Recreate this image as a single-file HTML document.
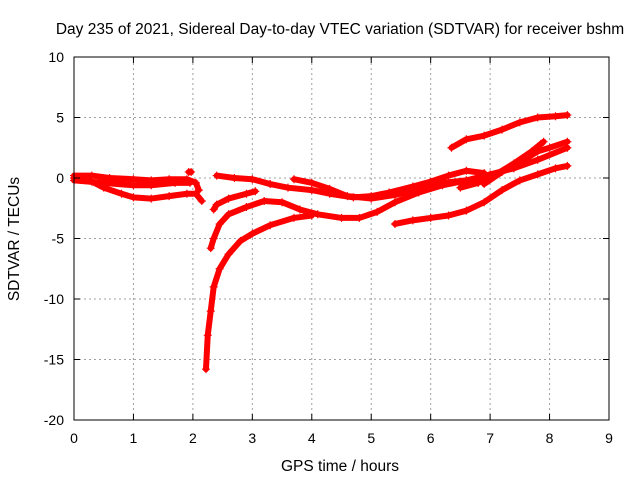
<!DOCTYPE html>
<html><head><meta charset="utf-8"><style>
body{margin:0;background:#fff}
svg{display:block;font-family:"Liberation Sans",sans-serif}
</style></head><body>
<svg id="chart" width="640" height="480">
<rect width="640" height="480" fill="#fff"/>
<text x="340" y="34" font-size="15.5" text-anchor="middle">Day 235 of 2021, Sidereal Day-to-day VTEC variation (SDTVAR) for receiver bshm</text>
<g id="grid"></g><g id="series"></g><g id="axes"></g>
<text x="340" y="471" font-size="15.5" text-anchor="middle">GPS time / hours</text>
<text transform="translate(19,239) rotate(-90)" font-size="15.5" text-anchor="middle">SDTVAR / TECUs</text>
</svg>
<script>
const xTicks=[0,1,2,3,4,5,6,7,8,9];
const yTicks=[10,5,0,-5,-10,-15,-20];
const s1=[[0,0.2],[0.3,0.2],[0.6,0],[1,-0.1],[1.3,-0.2],[1.6,-0.1],[1.9,-0.1],[2.05,-0.4],[2.1,-1]];
const s1b=[[0,-0.2],[0.5,-0.4],[1,-0.6],[1.3,-0.6],[1.7,-0.4],[1.95,-0.4]];
const s2=[[0,0],[0.3,-0.3],[0.5,-0.8],[0.8,-1.3],[1,-1.6],[1.3,-1.7],[1.6,-1.5],[1.9,-1.3],[2.05,-1.3],[2.15,-1.9]];
const s3=[[2.4,0.2],[2.7,0],[3,-0.1],[3.3,-0.5],[3.6,-0.8],[4,-1],[4.3,-1.3],[4.7,-1.6],[5,-1.5],[5.3,-1.2],[5.7,-0.7],[6,-0.3],[6.3,0.2],[6.6,0.6],[6.9,0.4]];
const s4=[[3.7,-0.1],[4,-0.4],[4.3,-0.9],[4.6,-1.5],[5,-1.7],[5.4,-1.4],[5.8,-0.9],[6.2,-0.4],[6.6,-0.2],[6.9,-0.2]];
const s5=[[2.35,-2.6],[2.4,-2.2],[2.6,-1.7],[2.9,-1.3],[3.05,-1.1]];
const s6=[[2.3,-5.8],[2.35,-5],[2.45,-3.8],[2.6,-3],[2.9,-2.4],[3.2,-1.9],[3.5,-2],[3.8,-2.6],[4.1,-3],[4.5,-3.3],[4.8,-3.3],[5.1,-2.8],[5.4,-2],[5.8,-1.2],[6.2,-0.6],[6.6,-0.2],[7,0.3],[7.4,0.8],[7.8,1.5],[8.3,2.5]];
const s7=[[2.22,-15.8],[2.25,-13],[2.3,-11],[2.35,-9],[2.45,-7.5],[2.6,-6.3],[2.8,-5.2],[3,-4.6],[3.3,-3.9],[3.7,-3.3],[4,-3.1]];
const s8=[[5.4,-3.8],[5.7,-3.5],[6,-3.3],[6.3,-3.1],[6.6,-2.7],[6.9,-2],[7.2,-1],[7.5,-0.2],[7.8,0.3],[8.1,0.8],[8.3,1]];
const s9=[[6.35,2.5],[6.6,3.2],[6.9,3.5],[7.2,4],[7.5,4.6],[7.8,5],[8.1,5.1],[8.3,5.2]];
const s10=[[6.5,-0.8],[6.8,-0.4],[7.1,0.3],[7.4,1.2],[7.7,2.2],[7.85,2.8],[7.9,3]];
const s11=[[6.9,-0.5],[7.2,0.5],[7.5,1.3],[7.8,2.2],[8,2.5],[8.3,3]];
const s12=[[1.93,0.5],[1.97,0.5]];
const allSeries=[s1,s1b,s2,s3,s4,s5,s6,s7,s8,s9,s10,s11,s12];
const X0=74,X1=609,Y0=420,Y1=57,xmin=0,xmax=9,ymin=-20,ymax=10;
const sx=v=>X0+(v-xmin)/(xmax-xmin)*(X1-X0);
const sy=v=>Y0-(v-ymin)/(ymax-ymin)*(Y0-Y1);
const NS="http://www.w3.org/2000/svg";
function mk(t,a,p){const e=document.createElementNS(NS,t);for(const k in a)e.setAttribute(k,a[k]);p.appendChild(e);return e;}
const grid=document.getElementById('grid'),axes=document.getElementById('axes'),ser=document.getElementById('series');
xTicks.forEach(t=>{const x=sx(t);
 if(t>xmin&&t<xmax){const g=mk('line',{x1:x,x2:x,y1:Y0,y2:Y1,stroke:'#a0a0a0','stroke-dasharray':'2,3'},grid);
 
 }
 mk('line',{x1:x,x2:x,y1:Y0,y2:Y0-6,stroke:'#000'},axes);mk('line',{x1:x,x2:x,y1:Y1,y2:Y1+6,stroke:'#000'},axes);
 const l=mk('text',{x:x,y:Y0+23,'font-size':14,'text-anchor':'middle'},axes);l.textContent=t;
 
 });
yTicks.forEach(t=>{const y=sy(t);
 if(t>ymin&&t<ymax){const g=mk('line',{x1:X0,x2:X1,y1:y,y2:y,stroke:'#a0a0a0','stroke-dasharray':'2,3'},grid);
 
 }
 mk('line',{x1:X0,x2:X0+6,y1:y,y2:y,stroke:'#000'},axes);mk('line',{x1:X1,x2:X1-6,y1:y,y2:y,stroke:'#000'},axes);
 const l=mk('text',{x:X0-10,y:y+5,'font-size':14,'text-anchor':'end'},axes);l.textContent=t;
 
 });
const fr=mk('rect',{x:X0,y:Y1,width:X1-X0,height:Y0-Y1,fill:'none',stroke:'#000'},axes);


allSeries.forEach((s,i)=>{
 const g=mk('g',{},ser);
 
 
 if(s.length>1)mk('polyline',{points:s.map(p=>sx(p[0])+','+sy(p[1])).join(' '),fill:'none',stroke:'#f00','stroke-width':6,'stroke-linejoin':'round','stroke-linecap':'round'},g);
 s.forEach(p=>{const x=sx(p[0]),y=sy(p[1]);
  mk('path',{d:`M${x-4},${y}H${x+4}M${x},${y-4}V${y+4}`,stroke:'#f00','stroke-width':1.2},g);});
});
</script>
</body></html>
